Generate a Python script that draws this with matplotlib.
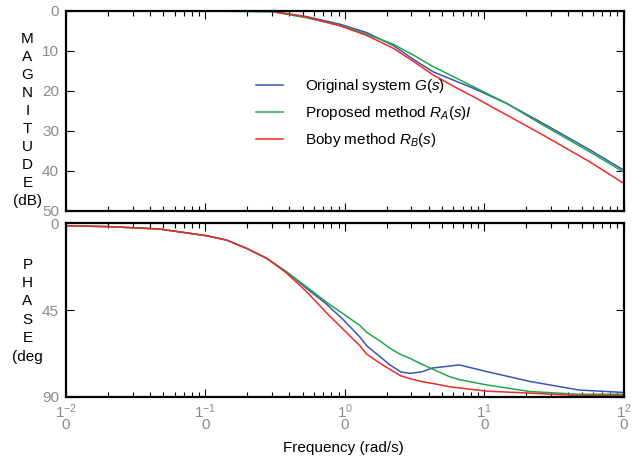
import numpy as np
import matplotlib
matplotlib.use('Agg')
import matplotlib.pyplot as plt
from matplotlib.ticker import LogLocator, NullFormatter, FixedLocator

plt.rcParams['font.family'] = ['Liberation Sans', 'DejaVu Sans']
plt.rcParams['mathtext.fontset'] = 'custom'
plt.rcParams['mathtext.rm'] = 'Liberation Sans'
plt.rcParams['mathtext.it'] = 'Liberation Sans:italic'

# magnitude (attenuation, dB), on a log10(w) grid
mag_lw = [-2.0, -1.0, -0.52, -0.275, -0.036, 0.156, 0.346, 0.5, 0.633, 0.8,
          0.92, 1.16, 1.40, 1.756, 1.995]
mag_G = [0.0, 0.0, 0.1, 1.4, 3.3, 5.4, 8.6, 12.3, 15.2, 17.6,
         19.3, 23.1, 27.7, 34.7, 39.7]
mag_RA = [0.0, 0.0, 0.2, 1.7, 3.6, 5.8, 8.3, 11.2, 13.9, 16.8,
          18.9, 23.1, 28.1, 35.2, 40.2]
mag_RB = [0.0, 0.0, 0.1, 1.5, 3.7, 6.1, 9.3, 12.8, 16.0, 19.2,
          21.4, 26.0, 30.6, 37.7, 43.0]

# phase lag (deg)
ph_lw = [-2.0, -1.68, -1.33, -0.99, -0.85, -0.705, -0.56, -0.42, -0.275, -0.131,
         -0.012, 0.108, 0.156, 0.251, 0.323, 0.4, 0.466, 0.55, 0.63, 0.75,
         0.82, 1.02, 1.33, 1.68, 1.99]
ph_G = [1.4, 1.9, 3.1, 6.6, 8.8, 13.1, 18.3, 25.2, 33.8, 42.0,
        50.0, 59.0, 63.5, 69.1, 73.4, 77.0, 77.8, 77.0, 75.0, 74.0,
        73.4, 76.9, 82.0, 86.4, 87.6]
ph_RA = [1.4, 1.9, 3.1, 6.6, 8.8, 13.1, 18.3, 25.2, 33.0, 41.0,
         47.0, 53.0, 56.5, 61.0, 64.8, 68.0, 70.0, 73.0, 75.6, 79.5,
         81.0, 83.8, 87.2, 88.6, 88.6]
ph_RB = [1.4, 1.9, 3.1, 6.6, 8.8, 13.1, 18.3, 25.8, 35.5, 46.5,
         55.0, 63.5, 67.8, 72.5, 75.7, 79.0, 80.5, 82.0, 83.0, 84.7,
         85.3, 87.0, 88.0, 89.3, 89.3]

labels = ['Original system $G(s)$', 'Proposed method $R_A(s)I$', 'Boby method $R_B(s)$']
colors = ['#3a55b0', '#1fa84a', '#ee2a2a']

fig = plt.figure(figsize=(6.36, 4.72), dpi=100)
ax1 = fig.add_axes([0.1038, 0.553, 0.877, 0.4237])
ax2 = fig.add_axes([0.1038, 0.1589, 0.877, 0.3686])

w_mag = 10 ** np.array(mag_lw)
w_ph = 10 ** np.array(ph_lw)
for y, c, lab in zip([mag_G, mag_RA, mag_RB], colors, labels):
    ax1.plot(w_mag, y, color=c, lw=1.1, label=lab)
for y, c in zip([ph_G, ph_RA, ph_RB], colors):
    ax2.plot(w_ph, y, color=c, lw=1.1)

xt_labels = ['1$^{-2}$\n0', '1$^{-1}$\n0', '1$^{0}$\n0', '1$^{1}$\n0', '1$^{2}$\n0']
for ax, lim, ticks in [(ax1, (50, 0), [0, 10, 20, 30, 40, 50]), (ax2, (90, 0), [0, 45, 90])]:
    ax.set_xscale('log')
    ax.set_xlim(1e-2, 1e2)
    ax.set_ylim(*lim)
    ax.set_yticks(ticks)
    ax.xaxis.set_major_locator(FixedLocator([1e-2, 1e-1, 1, 10, 100]))
    ax.xaxis.set_minor_locator(LogLocator(base=10, subs=np.arange(2, 10)))
    ax.xaxis.set_minor_formatter(NullFormatter())
    ax.tick_params(which='both', direction='in', top=True, right=True,
                   labelcolor='#8a8a8a', labelsize=11, width=0.8)
    ax.tick_params(which='major', length=6)
    ax.tick_params(which='minor', length=3.5)
    ax.tick_params(axis='y', pad=5)
    for s in ax.spines.values():
        s.set_linewidth(1.6)

ax1.set_xticklabels([])
ax2.set_xticklabels(xt_labels, linespacing=0.75)
ax2.tick_params(axis='x', pad=4)

ax1.legend(loc='upper left', bbox_to_anchor=(0.329, 0.70), frameon=False, fontsize=11,
           handlelength=1.8, handletextpad=1.4, labelspacing=0.6, borderaxespad=0)

fig.text(0.043, 0.746, 'M\nA\nG\nN\nI\nT\nU\nD\nE\n(dB)', ha='center', va='center',
         fontsize=11, linespacing=1.36)
fig.text(0.043, 0.342, 'P\nH\nA\nS\nE\n(deg', ha='center', va='center',
         fontsize=11, linespacing=1.4)
fig.text(0.54, 0.051, 'Frequency (rad/s)', ha='center', va='center', fontsize=11)

fig.savefig('out.png', dpi=100)
